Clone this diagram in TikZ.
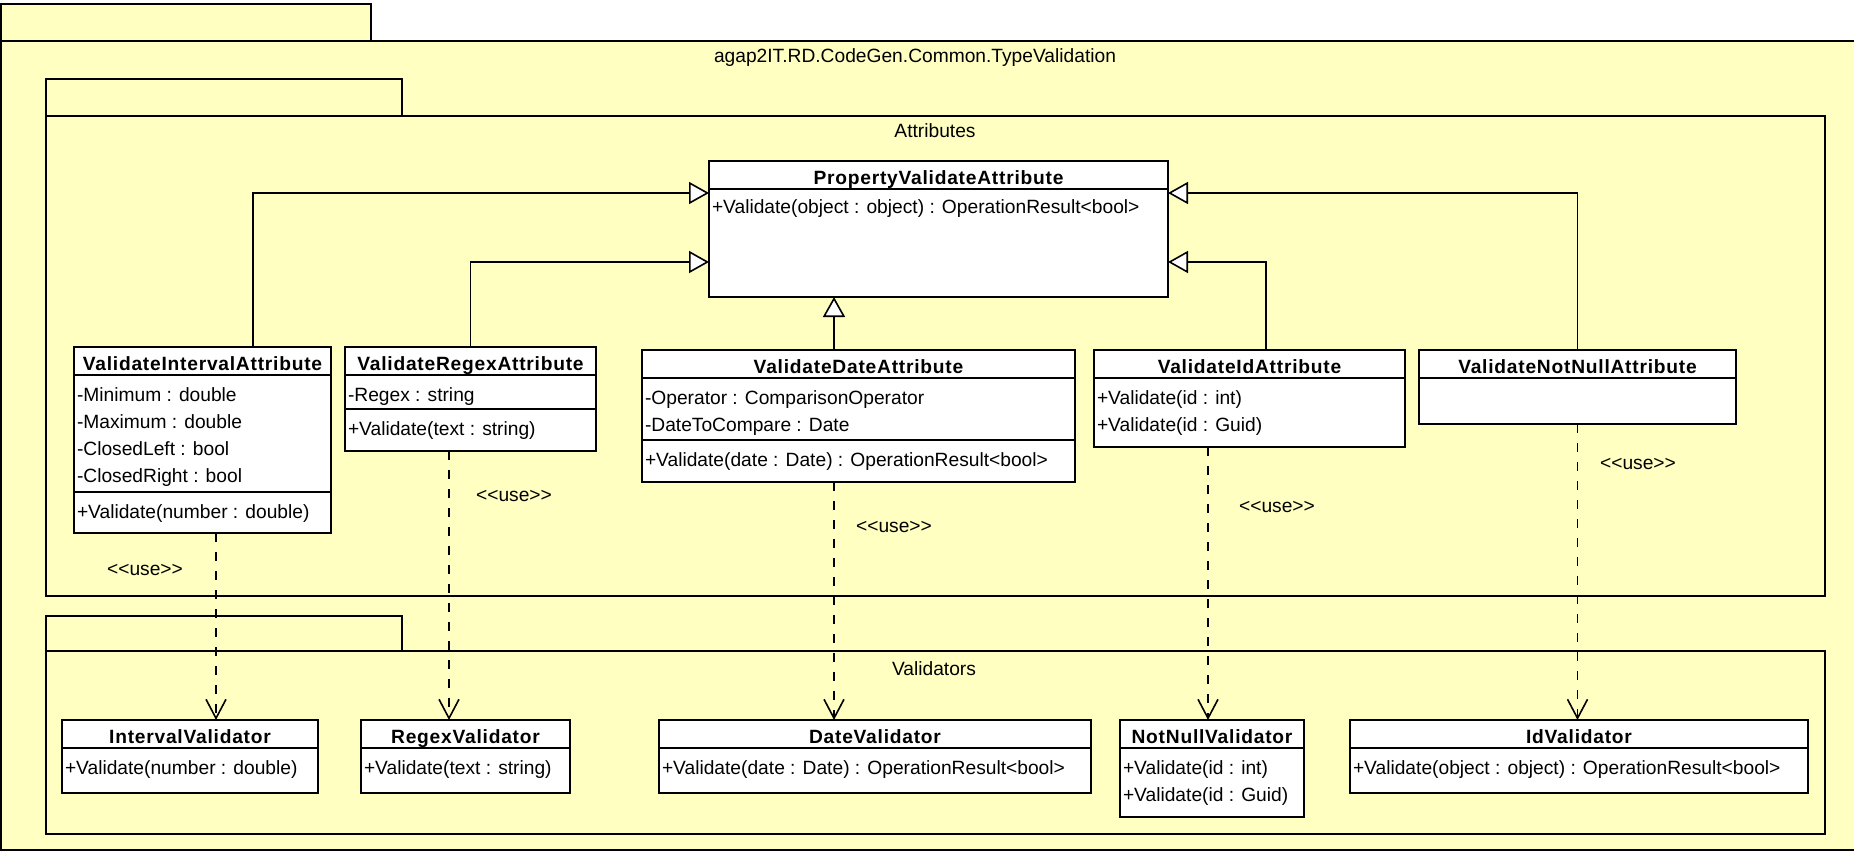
\documentclass[tikz,border=0pt]{standalone}
\usepackage{fontspec}
\usetikzlibrary{arrows.meta}

% fonts: plain family without TeX ligatures, so that << >> stay as typed
\newfontfamily\umlfont{Liberation Sans}
\newfontfamily\umlhead{Liberation Sans}[LetterSpace=4]

\definecolor{pkgyellow}{RGB}{255,255,194}

% compartment text: fixed height, top aligned
\newcommand{\members}[3]{\parbox[b][#1][t]{#2}{\strut#3}}

\begin{document}
\begin{tikzpicture}[
        x=1pt, y=-1pt,
        % packages
        pkgbox/.style={
            draw, fill=pkgyellow,
            line width=1.4pt,
            anchor=north west,
            inner sep=0pt, outer sep=0pt
        },
        pkgname/.style={
            font=\umlfont\fontsize{19.2}{27}\selectfont,
            anchor=base, inner sep=0pt
        },
        % class boxes: name, then member compartments
        clshead/.style={
            draw, fill=white,
            line width=1.8pt,
            anchor=north west,
            inner sep=0pt, outer sep=0pt,
            minimum width=#1, minimum height=28pt,
            text height=19pt, text depth=0pt,
            font=\umlhead\bfseries\fontsize{19.2}{27}\selectfont
        },
        clsbody/.style={
            draw, fill=white,
            line width=1.8pt,
            anchor=north west,
            inner xsep=3pt, inner ysep=8pt, outer sep=0pt,
            font=\umlfont\fontsize{19.2}{27}\selectfont
        },
        % connectors
        genarrow/.style={
            line width=1.6pt,
            -{Triangle[length=20pt, width=22pt, fill=white]}
        },
        usedep/.style={
            line width=1.6pt,
            dash pattern=on 9pt off 10pt,
            -{Straight Barb[length=19pt, width=20pt]}
        },
        uselbl/.style={
            font=\umlfont\fontsize{19.2}{27}\selectfont,
            anchor=base, inner sep=0pt
        }
    ]
    \useasboundingbox (0,0) rectangle (1854,853);

    % --- packages ---
    \node[pkgbox, minimum width=370pt, minimum height=37pt] (rootTab) at (1,4) {};
    \node[pkgbox, minimum width=1870pt, minimum height=809pt] (rootPkg) at (1,41) {};
    \node[pkgname] (rootName) at (915,63) {agap2IT.RD.CodeGen.Common.TypeValidation};

    \node[pkgbox, minimum width=356pt, minimum height=37pt] (attrTab) at (46,79) {};
    \node[pkgbox, minimum width=1779pt, minimum height=480pt] (attrPkg) at (46,116) {};
    \node[pkgname] (attrName) at (935,138) {Attributes};

    \node[pkgbox, minimum width=356pt, minimum height=35pt] (valTab) at (46,616) {};
    \node[pkgbox, minimum width=1779pt, minimum height=183pt] (valPkg) at (46,651) {};
    \node[pkgname] (valName) at (934,675) {Validators};

    % --- base attribute ---
    \node[clshead=459pt] (prop) at (709,161) {PropertyValidateAttribute};
    \node[clsbody, inner ysep=6pt] (propM) at (prop.south west)
        {\members{96pt}{453pt}{+Validate(object : object) : OperationResult<bool>}};

    % --- attributes ---
    \node[clshead=257pt] (intH) at (74,347) {ValidateIntervalAttribute};
    \node[clsbody] (intF) at (intH.south west)
        {\members{101pt}{251pt}{-Minimum : double\\-Maximum : double\\-ClosedLeft : bool\\-ClosedRight : bool}};
    \node[clsbody] (intM) at (intF.south west)
        {\members{25pt}{251pt}{+Validate(number : double)}};

    \node[clshead=251pt] (regH) at (345,347) {ValidateRegexAttribute};
    \node[clsbody] (regF) at (regH.south west) {\members{18pt}{245pt}{-Regex : string}};
    \node[clsbody] (regM) at (regF.south west) {\members{26pt}{245pt}{+Validate(text : string)}};

    \node[clshead=433pt] (dateH) at (642,350) {ValidateDateAttribute};
    \node[clsbody] (dateF) at (dateH.south west)
        {\members{46pt}{427pt}{-Operator : ComparisonOperator\\-DateToCompare : Date}};
    \node[clsbody] (dateM) at (dateF.south west)
        {\members{26pt}{427pt}{+Validate(date : Date) : OperationResult<bool>}};

    \node[clshead=311pt] (idH) at (1094,350) {ValidateIdAttribute};
    \node[clsbody] (idM) at (idH.south west)
        {\members{53pt}{305pt}{+Validate(id : int)\\+Validate(id : Guid)}};

    \node[clshead=317pt] (nnH) at (1419,350) {ValidateNotNullAttribute};
    \node[clsbody] (nnM) at (nnH.south west) {\members{30pt}{311pt}{}};

    % --- validators ---
    \node[clshead=256pt] (intV) at (62,720) {IntervalValidator};
    \node[clsbody] (intVM) at (intV.south west) {\members{29pt}{250pt}{+Validate(number : double)}};

    \node[clshead=209pt] (regV) at (361,720) {RegexValidator};
    \node[clsbody] (regVM) at (regV.south west) {\members{29pt}{203pt}{+Validate(text : string)}};

    \node[clshead=432pt] (dateV) at (659,720) {DateValidator};
    \node[clsbody] (dateVM) at (dateV.south west)
        {\members{29pt}{426pt}{+Validate(date : Date) : OperationResult<bool>}};

    \node[clshead=184pt] (nnV) at (1120,720) {NotNullValidator};
    \node[clsbody] (nnVM) at (nnV.south west)
        {\members{53pt}{178pt}{+Validate(id : int)\\+Validate(id : Guid)}};

    \node[clshead=458pt] (idV) at (1350,720) {IdValidator};
    \node[clsbody] (idVM) at (idV.south west)
        {\members{29pt}{452pt}{+Validate(object : object) : OperationResult<bool>}};

    % --- generalisations ---
    \coordinate (g1) at ([xshift=50.5pt]intH.north);
    \draw[genarrow] (g1) |- ([yshift=-32pt]prop.north west);
    \draw[genarrow] (regH.north) |- ([yshift=-101pt]prop.north west);
    \coordinate (g3) at ([xshift=-24.5pt]dateH.north);
    \draw[genarrow] (g3) -- (g3 |- propM.south);
    \coordinate (g4) at ([xshift=16.5pt]idH.north);
    \draw[genarrow] (g4) |- ([yshift=-101pt]prop.north east);
    \draw[genarrow] (nnH.north) |- ([yshift=-32pt]prop.north east);

    % --- dependencies ---
    \coordinate (u1) at ([xshift=13.5pt]intM.south);
    \draw[usedep] (u1) -- (u1 |- intV.north);
    \coordinate (u2) at ([xshift=-21.5pt]regM.south);
    \draw[usedep] (u2) -- (u2 |- regV.north);
    \coordinate (u3) at ([xshift=-24.5pt]dateM.south);
    \draw[usedep] (u3) -- (u3 |- dateV.north);
    \coordinate (u4) at ([xshift=-41.5pt]idM.south);
    \draw[usedep] (u4) -- (u4 |- nnV.north);
    \draw[usedep] (nnM.south) -- (nnM.south |- idV.north);

    \node[uselbl] (use1) at (145,575) {<<use>>};
    \node[uselbl] (use2) at (514,501) {<<use>>};
    \node[uselbl] (use3) at (894,532) {<<use>>};
    \node[uselbl] (use4) at (1277,512) {<<use>>};
    \node[uselbl] (use5) at (1638,469) {<<use>>};
\end{tikzpicture}
\end{document}
